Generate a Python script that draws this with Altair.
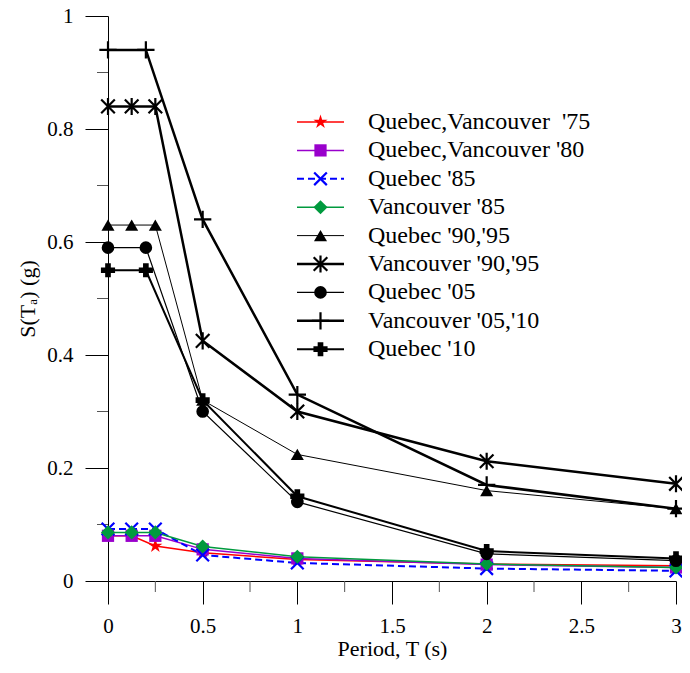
import altair as alt
import pandas as pd

# ---------------- data ----------------
series_names = [
    "Quebec,Vancouver\u00a0 '75",
    "Quebec,Vancouver '80",
    "Quebec '85",
    "Vancouver '85",
    "Quebec '90,'95",
    "Vancouver '90,'95",
    "Quebec '05",
    "Vancouver '05,'10",
    "Quebec '10",
]

periods_old = [0, 0.125, 0.25, 0.5, 1, 2, 3]
periods_new = [0, 0.2, 0.5, 1, 2, 3]

sa_qv75 = [0.080, 0.080, 0.062, 0.050, 0.038, 0.030, 0.027]
sa_qv80 = [0.080, 0.080, 0.080, 0.056, 0.040, 0.029, 0.024]
sa_q85 = [0.092, 0.092, 0.092, 0.046, 0.032, 0.022, 0.018]
sa_v85 = [0.086, 0.086, 0.086, 0.061, 0.043, 0.030, 0.024]
sa_q90 = [0.630, 0.630, 0.630, 0.320, 0.224, 0.160, 0.128]
sa_v90 = [0.840, 0.840, 0.840, 0.425, 0.300, 0.212, 0.172]
sa_q05 = [0.590, 0.590, 0.300, 0.140, 0.048, 0.036]
sa_v05 = [0.940, 0.940, 0.640, 0.330, 0.170, 0.128]
sa_q10 = [0.550, 0.550, 0.320, 0.150, 0.053, 0.040]

x_ticks = [0, 0.5, 1, 1.5, 2, 2.5, 3]
x_minor = [0.25, 0.75, 1.25, 1.75, 2.25, 2.75]
y_ticks = [0, 0.2, 0.4, 0.6, 0.8, 1]
y_minor = [0.1, 0.3, 0.5, 0.7, 0.9]

all_values = [sa_qv75, sa_qv80, sa_q85, sa_v85, sa_q90, sa_v90, sa_q05, sa_v05, sa_q10]
all_periods = [periods_old] * 6 + [periods_new] * 3

# ---------------- styles ----------------
W, H = 568, 565
PAD = {"left": 100, "top": 8, "right": 6, "bottom": 79}
SERIF = "Liberation Serif"

STAR_PATH = ("M0,-1L0.225,-0.309L0.951,-0.309L0.363,0.118L0.588,0.809L0,0.382"
             "L-0.588,0.809L-0.363,0.118L-0.951,-0.309L-0.225,-0.309Z")
X_PATH = "M-1,-1L1,1M-1,1L1,-1"
AST_PATH = "M0,-1L0,1M-0.8,-0.8L0.8,0.8M-0.8,0.8L0.8,-0.8"
PLUS_PATH = "M-1,0L1,0M0,-1L0,1"

line_colors = ["#ff0000", "#9900cc", "#0000ff", "#009a3e", "#000000",
               "#000000", "#000000", "#000000", "#000000"]
line_dash = [None, None, [7, 4], None, None, None, None, None, None]
line_widths = [1.5, 1.5, 2, 1.5, 1, 2.5, 1.2, 2.5, 2]
marker_shapes = [STAR_PATH, "square", X_PATH, "diamond", "triangle-up",
                 AST_PATH, "circle", PLUS_PATH, "cross"]
marker_filled = [True, True, False, True, True, False, True, False, True]
marker_size = [220, 150, 160, 200, 170, 290, 160, 300, 200]

LEG_TOP, LEG_STEP = 106, 28.4

x_axis = alt.Axis(
    values=x_ticks, format="~g", title="Period, T (s)", grid=False,
    tickSize=23, tickColor="black", domainColor="black", tickWidth=1, domainWidth=1,
    labelFont=SERIF, labelFontSize=21, labelColor="black", labelPadding=11,
    labelFlush=False, labelOverlap=False,
    titleFont=SERIF, titleFontSize=22, titleFontWeight="normal", titleColor="black",
    titleX=W / 2, titleY=74, titleAlign="center", titleBaseline="alphabetic",
)
y_axis = alt.Axis(
    values=y_ticks, format="~g", title="S(T\u2090) (g)", grid=False,
    tickSize=23, tickColor="black", domainColor="black", tickWidth=1, domainWidth=1,
    labelFont=SERIF, labelFontSize=21, labelColor="black", labelPadding=12,
    labelFlush=False, labelOverlap=False,
    titleFont=SERIF, titleFontSize=22, titleFontWeight="normal", titleColor="black",
    titleAngle=270, titleX=-74, titleY=H / 2, titleAlign="center", titleBaseline="alphabetic",
)
x_scale = alt.Scale(domain=[0, 3], nice=False, zero=False)
y_scale = alt.Scale(domain=[0, 1], nice=False, zero=False)

layers = []

# minor ticks
layers.append(
    alt.Chart(pd.DataFrame({"S": y_minor})).mark_rule(color="#555555", strokeWidth=1).encode(
        y=alt.Y("S:Q", scale=y_scale, axis=y_axis), x=alt.value(-11), x2=alt.value(0)
    )
)
layers.append(
    alt.Chart(pd.DataFrame({"T": x_minor})).mark_rule(color="#555555", strokeWidth=1).encode(
        x=alt.X("T:Q", scale=x_scale, axis=x_axis), y=alt.value(H), y2=alt.value(H + 11)
    )
)

line_layers, point_layers, legend_layers = [], [], []
for i, name in enumerate(series_names):
    sdf = pd.DataFrame({"T": all_periods[i], "S": all_values[i], "series": name})
    line_kw = dict(color=line_colors[i], strokeWidth=line_widths[i])
    if line_dash[i] is not None:
        line_kw["strokeDash"] = line_dash[i]
    line_layers.append(
        alt.Chart(sdf).mark_line(**line_kw).encode(x="T:Q", y="S:Q")
    )
    pt_kw = dict(shape=marker_shapes[i], size=marker_size[i], opacity=1,
                 filled=marker_filled[i], color=line_colors[i])
    if not marker_filled[i]:
        pt_kw["strokeWidth"] = 2.2
    point_layers.append(
        alt.Chart(sdf).mark_point(**pt_kw).encode(x="T:Q", y="S:Q")
    )

    ly = LEG_TOP + i * LEG_STEP
    ldf = pd.DataFrame({"series": [name]})
    legend_layers.append(
        alt.Chart(ldf).mark_rule(**line_kw).encode(
            x=alt.value(189), x2=alt.value(236), y=alt.value(ly)
        )
    )
    legend_layers.append(
        alt.Chart(ldf).mark_point(**pt_kw).encode(x=alt.value(212.5), y=alt.value(ly))
    )
    legend_layers.append(
        alt.Chart(ldf).mark_text(
            align="left", baseline="middle", font=SERIF, fontSize=24, color="black"
        ).encode(x=alt.value(260), y=alt.value(ly), text="series:N")
    )

chart = (
    alt.layer(*(layers + line_layers + point_layers + legend_layers))
    .properties(
        width=W, height=H, autosize=alt.AutoSizeParams(type="none"),
        padding=PAD, background="white",
    )
    .configure_view(stroke=None)
)

chart.save("out.html", embed_options={"renderer": "svg", "actions": False})
